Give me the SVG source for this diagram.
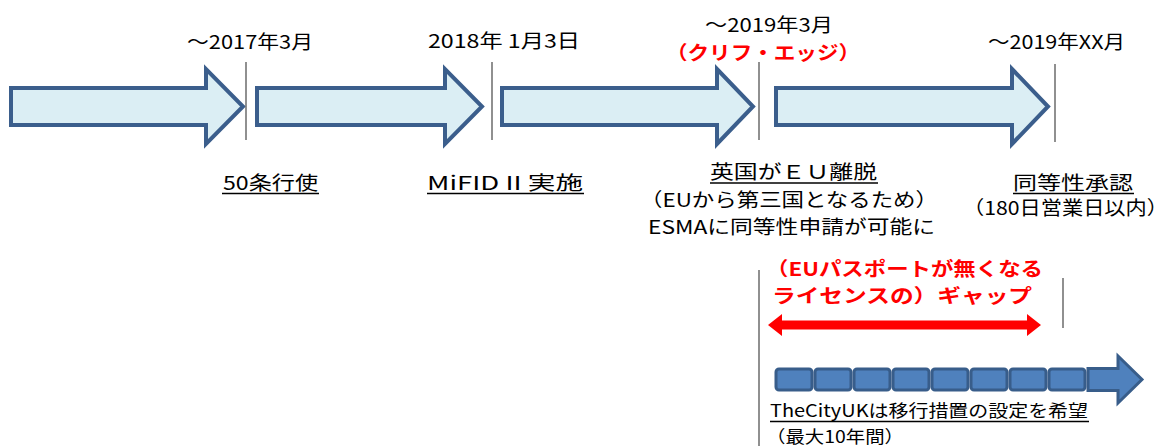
<svg xmlns="http://www.w3.org/2000/svg" width="1168" height="446" viewBox="0 0 1168 446">
<defs>
<style>
.t{font-family:"Noto Sans CJK JP","Noto Sans CJK SC",sans-serif;font-size:19px;fill:#000}
.r{font-family:"Noto Sans CJK JP","Noto Sans CJK SC",sans-serif;font-size:19px;font-weight:bold;fill:#FF0000}
.big{fill:#DBEEF4;stroke:#3B5E8C;stroke-width:4;stroke-linejoin:miter}
.tick{stroke:#6b6b6b;stroke-width:1.5}
.ul{stroke:#000;stroke-width:1.5}
.blk{fill:#4F81BD;stroke:#385D8A;stroke-width:3}
</style>
</defs>
<g id="arrow1"><polygon class="big" points="11,88 206,88 206,69 243,106.5 206,144 206,125 11,125"/></g>
<g id="arrow2"><polygon class="big" points="257,88 445,88 445,69 482,106.5 445,144 445,125 257,125"/></g>
<g id="arrow3"><polygon class="big" points="502,88 717,88 717,69 753,106.5 717,144 717,125 502,125"/></g>
<g id="arrow4"><polygon class="big" points="776,88 1012,88 1012,69 1048,106.5 1012,144 1012,125 776,125"/></g>
<g id="connectors">
<line class="tick" x1="246" y1="62" x2="246" y2="140"/>
<line class="tick" x1="492" y1="62" x2="492" y2="140"/>
<line class="tick" x1="759" y1="62" x2="759" y2="140"/>
<line class="tick" x1="1055" y1="64" x2="1055" y2="142"/>
<line class="tick" x1="759" y1="270" x2="759" y2="446"/>
<line class="tick" x1="1063" y1="278" x2="1063" y2="328"/>
<polygon fill="#FF0000" points="768,325 782,314 782,320.5 1027,320.5 1027,314 1041,325 1027,336 1027,329.5 782,329.5 782,336"/>
</g>
<g id="transition">
<rect class="blk" x="776" y="369" width="36" height="21" rx="3"/>
<rect class="blk" x="815" y="369" width="36" height="21" rx="3"/>
<rect class="blk" x="854" y="369" width="36" height="21" rx="3"/>
<rect class="blk" x="893" y="369" width="36" height="21" rx="3"/>
<rect class="blk" x="932" y="369" width="36" height="21" rx="3"/>
<rect class="blk" x="971" y="369" width="36" height="21" rx="3"/>
<rect class="blk" x="1010" y="369" width="36" height="21" rx="3"/>
<rect class="blk" x="1049" y="369" width="36" height="21" rx="3"/>
<polygon class="blk" points="1088,368.5 1118,368.5 1118,356 1142,379.5 1118,403 1118,390.5 1088,390.5"/>
</g>
<g id="labels-top">
<text class="t" x="187" y="49" textLength="126" lengthAdjust="spacingAndGlyphs">～2017年3月</text>
<text class="t" x="428" y="48" textLength="152" lengthAdjust="spacingAndGlyphs" xml:space="preserve">2018年 1月3日</text>
<text class="t" x="705" y="32" textLength="128" lengthAdjust="spacingAndGlyphs">～2019年3月</text>
<text class="r" x="666" y="60" textLength="194" lengthAdjust="spacingAndGlyphs">（クリフ・エッジ）</text>
<text class="t" x="988" y="49" textLength="137" lengthAdjust="spacingAndGlyphs">～2019年XX月</text>
</g>
<g id="labels-bottom">
<text class="t" x="223" y="190" textLength="95" lengthAdjust="spacingAndGlyphs">50条行使</text>
<line class="ul" x1="222" y1="193.5" x2="319" y2="193.5"/>
<text class="t" x="427" y="190" textLength="156" lengthAdjust="spacingAndGlyphs" xml:space="preserve">MiFID II 実施</text>
<line class="ul" x1="427" y1="193.5" x2="584" y2="193.5"/>
<text class="t" x="710" y="179" textLength="167" lengthAdjust="spacingAndGlyphs">英国がＥＵ離脱</text>
<line class="ul" x1="710" y1="183" x2="878" y2="183"/>
<text class="t" x="640" y="207" textLength="298" lengthAdjust="spacingAndGlyphs">（EUから第三国となるため）</text>
<text class="t" x="648" y="234" textLength="287" lengthAdjust="spacingAndGlyphs">ESMAに同等性申請が可能に</text>
<text class="t" x="1013" y="190" textLength="120" lengthAdjust="spacingAndGlyphs">同等性承認</text>
<line class="ul" x1="1013" y1="193.5" x2="1134" y2="193.5"/>
<text class="t" x="963" y="215" textLength="205" lengthAdjust="spacingAndGlyphs">（180日営業日以内）</text>
</g>
<g id="gap-label">
<text class="r" x="766" y="276" textLength="277" lengthAdjust="spacingAndGlyphs">（EUパスポートが無くなる</text>
<text class="r" x="772" y="303" textLength="260" lengthAdjust="spacingAndGlyphs">ライセンスの）ギャップ</text>
</g>
<g id="transition-label">
<text class="t" x="770" y="417" style="font-size:17px" textLength="318" lengthAdjust="spacingAndGlyphs">TheCityUKは移行措置の設定を希望</text>
<line class="ul" x1="770" y1="421.5" x2="1089" y2="421.5"/>
<text class="t" x="766" y="443" style="font-size:17px" textLength="138" lengthAdjust="spacingAndGlyphs">（最大10年間）</text>
</g>
</svg>
